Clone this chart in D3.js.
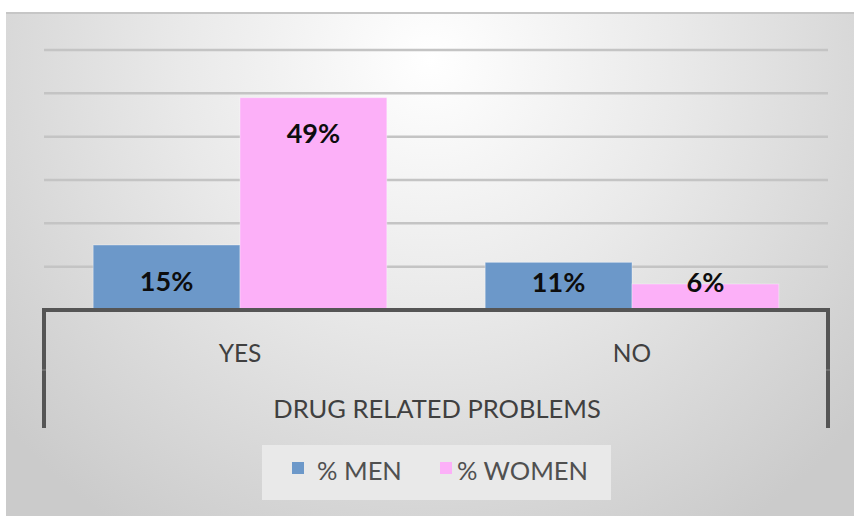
<!DOCTYPE html>
<html><head><meta charset="utf-8">
<script src="https://cdn.jsdelivr.net/npm/d3@7"></script>
<style>html,body{margin:0;padding:0;background:#fff;}svg{display:block;}</style>
</head><body>
<svg id="chart" width="854" height="516"></svg>
<script>
const categories = ["YES", "NO"];
const seriesNames = ["% MEN", "% WOMEN"];
const menValues = [15, 11];
const womenValues = [49, 6];
const yTicks = [0, 10, 20, 30, 40, 50, 60];
const axisTitle = "DRUG RELATED PROBLEMS";
const colors = ["#6c98c9", "#fcb0f8"];
const FONT = "Lato, 'Open Sans', sans-serif";

const svg = d3.select("#chart");
const defs = svg.append("defs");
const grad = defs.append("radialGradient").attr("id","bg")
  .attr("gradientUnits","userSpaceOnUse").attr("cx",430).attr("cy",60).attr("r",560);
grad.append("stop").attr("offset","0").attr("stop-color","#ffffff");
grad.append("stop").attr("offset","0.45").attr("stop-color","#e9e9e9");
grad.append("stop").attr("offset","1").attr("stop-color","#cbcbcb");

svg.append("rect").attr("x",6).attr("y",12).attr("width",848).attr("height",504).attr("fill","url(#bg)");
svg.append("line").attr("x1",6).attr("x2",854).attr("y1",13).attr("y2",13).attr("stroke","#c6c6c6").attr("stroke-width",2);

const left = 44, right = 828, baseY = 310;
const x0 = d3.scaleBand().domain(categories).range([left, right]).paddingInner(0).paddingOuter(0);
const x1 = d3.scaleBand().domain(seriesNames).range([0, x0.bandwidth()]).paddingOuter(0.335).paddingInner(0);
const y = d3.scaleLinear().domain([0, 60]).range([baseY, 50]);

// gridlines
svg.append("g").selectAll("line").data(yTicks.filter(t => t > 0)).join("line")
  .attr("x1", left).attr("x2", right).attr("y1", d => y(d)).attr("y2", d => y(d))
  .attr("stroke", "#c4c4c4").attr("stroke-width", 2.5);

const rows = categories.map((c, i) => ({cat: c, vals: [menValues[i], womenValues[i]]}));

const g = svg.append("g").selectAll("g").data(rows).join("g")
  .attr("transform", d => `translate(${x0(d.cat)},0)`);
g.selectAll("rect").data(d => d.vals.map((v, j) => ({v, s: seriesNames[j], j}))).join("rect")
  .attr("x", d => x1(d.s)).attr("width", x1.bandwidth())
  .attr("y", d => y(d.v)).attr("height", d => baseY - y(d.v))
  .attr("fill", d => colors[d.j]).attr("stroke", "rgba(255,255,255,0.35)").attr("stroke-width", 1);
g.selectAll("text").data(d => d.vals.map((v, j) => ({v, s: seriesNames[j], j}))).join("text")
  .attr("x", d => x1(d.s) + x1.bandwidth() / 2)
  .attr("y", d => Math.min(y(d.v) + 35, 281))
  .attr("text-anchor", "middle").attr("dominant-baseline", "central")
  .attr("font-family", FONT).attr("font-weight", "bold")
  .attr("font-size", 27).attr("fill", "#0d0d0d")
  .text(d => d.v + "%");

// axis box
svg.append("path")
  .attr("d", `M${left},428 V${baseY} H${right} V428`)
  .attr("fill", "none").attr("stroke", "#555555").attr("stroke-width", 4);
[left, right].forEach(xx => {
  svg.append("line").attr("x1", xx - 2).attr("x2", xx + 2).attr("y1", 370).attr("y2", 370)
    .attr("stroke", "#8a8a8a").attr("stroke-width", 1);
});

// category labels
svg.append("g").selectAll("text").data(categories).join("text")
  .attr("x", d => x0(d) + x0.bandwidth() / 2).attr("y", 352)
  .attr("text-anchor", "middle").attr("dominant-baseline", "central")
  .attr("font-family", FONT).attr("font-size", 24.5).attr("fill", "#404040")
  .text(d => d);
svg.append("text").attr("x", (left + right) / 2 + 1).attr("y", 408)
  .attr("text-anchor", "middle").attr("dominant-baseline", "central")
  .attr("font-family", FONT).attr("font-size", 25.5).attr("fill", "#404040")
  .text(axisTitle);

// legend
svg.append("rect").attr("x", 262).attr("y", 445).attr("width", 349).attr("height", 55).attr("fill", "#e9e9e9");
const legItems = [{name: seriesNames[0], sx: 292, tx: 317}, {name: seriesNames[1], sx: 440, tx: 457}];
const lg = svg.append("g").selectAll("g").data(legItems).join("g");
lg.append("rect").attr("x", d => d.sx).attr("y", 462).attr("width", 12).attr("height", 12)
  .attr("fill", (d, i) => colors[i]);
lg.append("text").attr("x", d => d.tx).attr("y", 470).attr("dominant-baseline", "central")
  .attr("font-family", FONT).attr("font-size", 25.5).attr("fill", "#505050")
  .text(d => d.name);
</script>
</body></html>
